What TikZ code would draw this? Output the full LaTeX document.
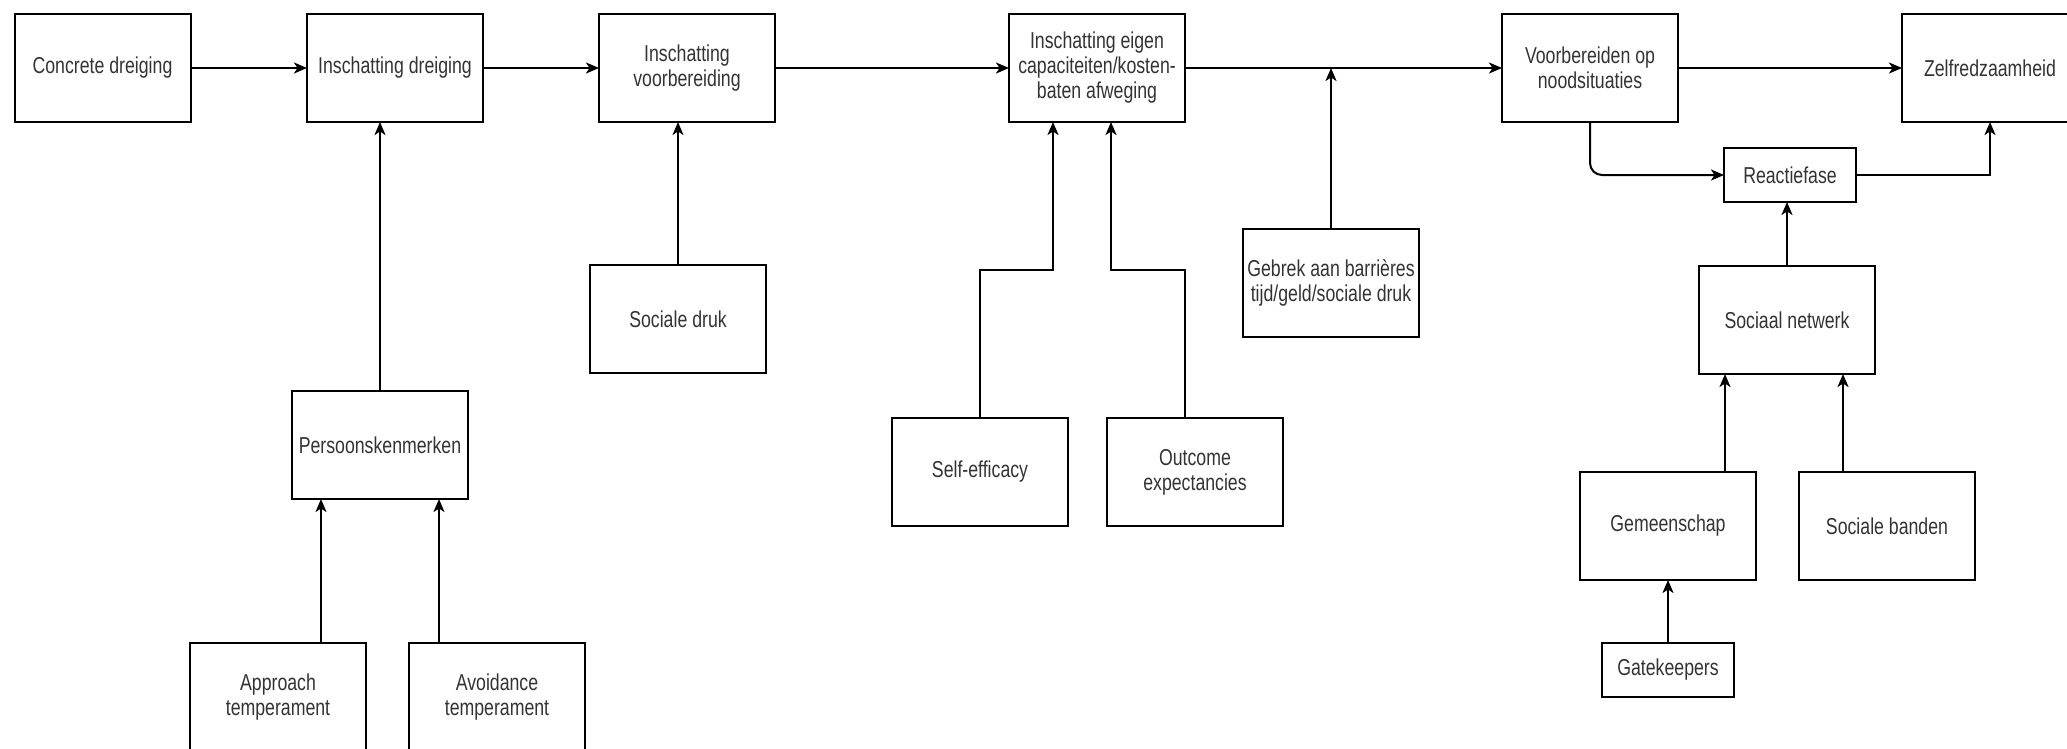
\documentclass[tikz,border=0pt]{standalone}
\usepackage{fontspec}
\setmainfont{Liberation Sans}[FakeStretch=0.77]
\usepackage{tikz}
\usetikzlibrary{arrows.meta}
\usetikzlibrary{positioning}
\definecolor{tekst}{HTML}{333333}

\begin{document}
\begin{tikzpicture}[x=1pt,y=-1pt,
    blok/.style={draw,line width=2,minimum width=176,minimum height=108,
      inner sep=0,outer sep=0,align=center,text=tekst,
      font=\fontsize{23}{25}\selectfont},
    kleinblok/.style={blok,minimum width=132,minimum height=54},
    pijl/.style={line width=2,-{Stealth[length=13,width=11,inset=3.5]}}]
  \clip (0,0) rectangle (2067,748);
  % bovenste rij
  \node[blok] (conc) at (102.5,68) {Concrete dreiging};
  \node[blok] (dreig) at (395,68) {Inschatting dreiging};
  \node[blok] (voorb) at (687,68) {Inschatting\\voorbereiding};
  \node[blok] (eigen) at (1097,68) {Inschatting eigen\\capaciteiten/kosten-\\baten afweging};
  \node[blok] (nood) at (1590,68) {Voorbereiden op\\noodsituaties};
  \node[blok] (zelf) at (1990,68) {Zelfredzaamheid};
  % invloeden
  \node[blok] (pers) at (380,445) {Persoonskenmerken};
  \node[blok] (appr) at (278,697) {Approach\\temperament};
  \node[blok] (avoid) at (497,697) {Avoidance\\temperament};
  \node[blok] (druk) at (678,319) {Sociale druk};
  \node[blok] (self) at (980,472) {Self-efficacy};
  \node[blok] (outc) at (1195,472) {Outcome\\expectancies};
  \node[blok] (gebrek) at (1331,283) {Gebrek aan barrières\\tijd/geld/sociale druk};
  \node[kleinblok] (react) at (1790,175) {Reactiefase};
  \node[blok] (netw) at (1787,320) {Sociaal netwerk};
  \node[blok] (gemeen) at (1668,526) {Gemeenschap};
  \node[blok] (banden) at (1887,526) {Sociale banden};
  \node[kleinblok] (gate) at (1668,670) {Gatekeepers};

  \coordinate (mid) at (0,270);
  \coordinate (pa) at ([xshift=29]pers.south west);
  \coordinate (pb) at ([xshift=-29]pers.south east);
  \coordinate (ea) at ([xshift=44]eigen.south west);
  \coordinate (eb) at ([xshift=-74]eigen.south east);
  \coordinate (na) at ([xshift=26]netw.south west);
  \coordinate (nb) at ([xshift=-32]netw.south east);

  \draw[pijl] (conc) -- (dreig);
  \draw[pijl] (dreig) -- (voorb);
  \draw[pijl] (voorb) -- (eigen);
  \draw[pijl] (eigen) -- (nood);
  \draw[pijl] (nood) -- (zelf);
  \draw[pijl] (gebrek.north) -- (gebrek.north |- eigen.east);
  \draw[pijl] (druk.north) -- (druk.north |- voorb.south);
  \draw[pijl] (pers.north) -- (pers.north |- dreig.south);
  \draw[pijl] (appr.north -| pa) -- (pa);
  \draw[pijl] (avoid.north -| pb) -- (pb);
  \draw[pijl] (self.north) -- (self.north |- mid) -| (ea);
  \draw[pijl] (outc.north -| eigen.east) -- (eigen.east |- mid) -| (eb);
  \draw[pijl,rounded corners=12] (nood.south) |- (react.west);
  \draw[pijl] (react.east) -| (zelf.south);
  \draw[pijl] (netw.north) -- (netw.north |- react.south);
  \draw[pijl] (gemeen.north -| na) -- (na);
  \draw[pijl] (banden.north -| nb) -- (nb);
  \draw[pijl] (gate) -- (gemeen);
\end{tikzpicture}
\end{document}
